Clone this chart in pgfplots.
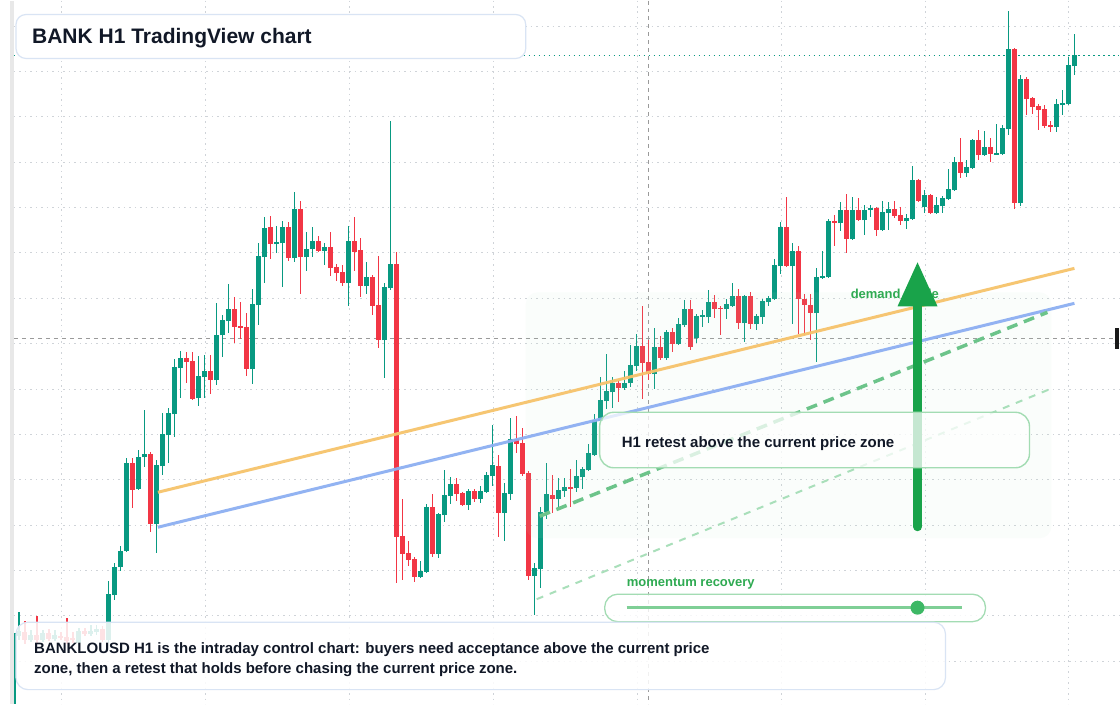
\documentclass[border=0pt]{standalone}
\usepackage{pgfplots}
\pgfplotsset{compat=1.18}
\usepackage{pgfplotstable}
\usepackage{fontspec}
\setmainfont{Liberation Sans}
\definecolor{upc}{HTML}{089981}
\definecolor{dnc}{HTML}{F23645}
\definecolor{gridc}{HTML}{CFD3D8}
\definecolor{crossc}{HTML}{9A9A9A}
\definecolor{orangec}{HTML}{F6C36B}
\definecolor{bluec}{HTML}{8DAFF2}
\definecolor{dashg}{HTML}{6CC48A}
\definecolor{dashlg}{HTML}{A9DFBA}
\definecolor{zonec}{HTML}{B9EBC8}
\definecolor{arrowc}{HTML}{19A34A}
\definecolor{textg}{HTML}{2FAA52}
\definecolor{boxg}{HTML}{A3DCB3}
\definecolor{boxb}{HTML}{D9E4F4}
\definecolor{darkt}{HTML}{111827}
\definecolor{slidel}{HTML}{7FCF96}
\definecolor{sliden}{HTML}{3DB865}

% candles: i = slot (x = 19 + 6 i), prices read as pixel rows (top = 0)
\pgfplotstableread{
i o h l c
0 636 612 640 631
2 640 630 642 635
4 640 630 642 633
6 639 630 641 635
10 643 628 645 631
12 634 625 636 631
13 632 625 635 629
15 640 581 643 594
16 595 563 600 567
17 567 546 571 551
18 551 458 552 463
20 489 450 490 457
21 457 410 467 454
23 524 460 553 465
24 466 413 475 434
25 435 408 463 413
26 414 359 437 367
27 368 351 398 358
30 398 356 406 376
31 377 355 398 371
33 380 303 385 335
34 335 315 357 320
35 321 284 333 309
39 369 289 384 304
40 305 243 325 256
41 257 217 283 228
43 244 226 253 242
44 243 221 287 227
46 258 192 262 209
48 257 232 271 249
49 249 227 257 241
51 251 243 265 247
55 283 226 306 241
58 286 262 294 277
61 340 283 378 287
62 288 121 290 264
67 577 561 578 571
68 572 504 573 507
70 554 513 558 514
71 515 470 522 495
72 496 477 504 484
75 505 489 510 491
77 499 486 503 491
78 492 472 493 475
79 476 425 486 465
81 513 483 541 493
82 494 418 500 439
86 576 563 615 568
87 569 507 588 512
88 512 463 519 494
90 499 478 507 490
91 491 478 497 487
93 488 460 492 476
94 477 467 489 469
95 470 444 471 453
96 455 414 456 420
97 421 377 422 400
98 401 354 409 391
99 392 377 408 383
101 388 371 390 383
102 383 345 387 365
103 366 334 371 346
106 374 328 389 347
108 358 330 360 332
110 344 318 345 324
111 325 300 327 309
113 338 314 343 316
114 316.5 310 327 315
115 317 290 323 302
118 309 299 319 304
119 306 283 307 296
121 323 295 342 296
123 324 314 330 316
124 317 299 324 301
125 302 296 306 298
126 299 259 300 265
127 266 222 274 227
129 266 243 324 251
133 313 268 362 277
134 277.5 251 279 276
135 277 219 278 221
137 223 202 231 210
139 239 197 240 210
141 220 205 235 210
142 210 205 217 208
144 230 201 231 212
145 213 202 230 209
148 221 214 229 218
149 219 166 220 180
151 207 190 213 195
153 213 197 214 205
154 206 196 213 198
155 199 169 200 189
156 190 157 191 162
158 173 160 177 167
159 168 139 169 140
161 155 131 156 147
163 154.5 124 155 153
164 154 125 155 128
165 129 11 135 49
167 203 75 206 79
173 127 99 132 104
174 105 90 115 103
175 104 57 105 65
176 66 34 75 55
}\upT

\pgfplotstableread{
i o h l c
1 632 621 644 640
3 635 616 643 640
5 633 629 641 639
7 636 632 640 637.5
8 637 618 644 641
9 638 632 643 640
11 631 628 636 634
14 629 626 642 640
19 463 458 508 490
22 454 452 532 524
28 358 352 383 362
29 361 352 400 399
32 371 355 394 380
36 309 297 343 327
37 326 302 339 327.5
38 327 313 376 369
42 227 216 259 244
45 227 222 261 258
47 209 201 294 257
50 241 236 252 251
52 247 232 276 268
53 267 264 281 273
54 272 265 286 283
56 241 217 271 252
57 250 238 297 286
59 277 275 315 306
60 305 256 348 340
63 264 252 583 537
64 536 499 580 554
65 553 541 566 560
66 559 557 582 577
69 507 494 557 554
73 484 478 501 494
74 493 492 506 505
76 491 489 502 499
80 466 455 537 513
83 439 416 453 444
84 443 428 476 474
85 473 471 580 576
89 495 475 513 499
92 487 469 507 488.5
100 383 381 402 388
104 346 306 399 363
105 362 340 380 374
107 347 336 360 358
109 332 328 352 344
112 309 300 350 347
116 302 295 318 309
117 307.5 306 335 309
120 296 289 329 323
122 296 292 329 324
128 227 197 267 266
130 251 246 334 299
131 299 294 335 305
132 305 294 340 313
136 221 215 246 222.5
138 210 194 253 239
140 210 198 221 220
143 208 207 236 230
146 209 201 218 216
147 215 207 225 221
150 180 179 202 201
152 195 194 214 213
157 162 138 178 173
160 140 130 160 155
162 147 138 162 154
166 49 48 209 203
168 79 77 115 99
169 98 97 114 107
170 106 104 130 110
171 109 105 128 126
172 125 121 132 127
}\dnT

\begin{document}
\begin{tikzpicture}
\begin{axis}[
  width=1120pt, height=704pt, scale only axis,
  xmin=0, xmax=1120, ymin=0, ymax=704, y dir=reverse,
  hide axis, clip=false,
]
% background
\fill[white] (axis cs:0,0) rectangle (axis cs:1120,704);
\fill[black!9] (axis cs:10,0) rectangle (axis cs:14,704);
% grid
\pgfplotsinvokeforeach{0,...,14}{
  \draw[gridc, line width=1pt, dash pattern=on 1.5pt off 4pt]
    (axis cs:14,{25.6+45.4*#1}) -- (axis cs:1120,{25.6+45.4*#1});
}
\pgfplotsinvokeforeach{0,...,7}{
  \draw[gridc, line width=1pt, dash pattern=on 1.5pt off 4pt]
    (axis cs:{61.5+144*#1},0) -- (axis cs:{61.5+144*#1},704);
}
% last price line and crosshair
\draw[upc, line width=1.2pt, dash pattern=on 1.5pt off 3.5pt] (axis cs:14,55) -- (axis cs:1120,55);
\draw[crossc, line width=1pt, dash pattern=on 4pt off 4pt] (axis cs:14,338) -- (axis cs:1116,338);
\draw[crossc, line width=1pt, dash pattern=on 4pt off 4pt] (axis cs:649,0) -- (axis cs:649,704);
\draw[upc, line width=1.6pt] (axis cs:15,633) -- (axis cs:15,704);

% candles
\addplot[upc, line width=1.1pt, quiver={u=0, v=\thisrow{l}-\thisrow{h}}]
  table[x expr=19+6*\thisrow{i}, y=h] {\upT};
\addplot[upc, line width=5pt, quiver={u=0, v=\thisrow{c}-\thisrow{o}}]
  table[x expr=19+6*\thisrow{i}, y=o] {\upT};
\addplot[dnc, line width=1.1pt, quiver={u=0, v=\thisrow{l}-\thisrow{h}}]
  table[x expr=19+6*\thisrow{i}, y=h] {\dnT};
\addplot[dnc, line width=5pt, quiver={u=0, v=\thisrow{c}-\thisrow{o}}]
  table[x expr=19+6*\thisrow{i}, y=o] {\dnT};

% demand zone overlay
\fill[zonec, fill opacity=0.07, rounded corners=12pt] (axis cs:526,292) rectangle (axis cs:1052,538);

% trend lines
\addplot[orangec, line width=3pt, opacity=0.95] coordinates {(158,492) (1075,268)};
\addplot[bluec, line width=3pt, opacity=0.95] coordinates {(158,527) (1075,303)};
\addplot[dashg, line width=3.5pt, dash pattern=on 11pt off 7pt] coordinates {(540,516) (1048,312)};
\addplot[dashlg, line width=2pt, dash pattern=on 7pt off 7pt] coordinates {(537,599) (1050,389)};

% demand guide label and arrow
\node[anchor=base west, inner sep=0pt, text=textg, font=\bfseries\fontsize{13}{15}\selectfont] at (axis cs:851,298.5) {demand guide};
\draw[arrowc, line width=9pt, line cap=round] (axis cs:918,526.5) -- (axis cs:918,300);
\fill[arrowc] (axis cs:898,306) -- (axis cs:918,262) -- (axis cs:938,306) -- cycle;

% retest box
\draw[boxg, line width=1.4pt, fill=white, fill opacity=0.75, rounded corners=14pt] (axis cs:600,412) rectangle (axis cs:1030,467.5);
\node[anchor=base west, inner sep=0pt, text=darkt, font=\bfseries\fontsize{15}{18}\selectfont] at (axis cs:622,447.5) {H1 retest above the current price zone};

% momentum slider
\node[anchor=base west, inner sep=0pt, text=textg, font=\bfseries\fontsize{13}{15}\selectfont] at (axis cs:627,586.5) {momentum recovery};
\draw[boxg, line width=1.3pt, fill=white, fill opacity=0.8, rounded corners=13pt] (axis cs:605,594) rectangle (axis cs:986,621.5);
\draw[slidel, line width=3.5pt] (axis cs:627,607.5) -- (axis cs:962,607.5);
\fill[sliden] (axis cs:918,607.5) circle[radius=7pt];

% title
\draw[boxb, line width=1.2pt, fill=white, rounded corners=10pt] (axis cs:16,14) rectangle (axis cs:526,58);
\node[anchor=base west, inner sep=0pt, text=darkt, font=\bfseries\fontsize{21}{25}\selectfont] at (axis cs:32,43.5) {BANK H1 TradingView chart};

% caption
\draw[boxb, line width=1.2pt, fill=white, fill opacity=0.86, rounded corners=12pt] (axis cs:16,622) rectangle (axis cs:946,689.5);
\node[anchor=base west, inner sep=0pt, text=darkt, font=\bfseries\fontsize{15}{18}\selectfont] at (axis cs:34,653) {BANKLOUSD H1 is the intraday control chart: buyers need acceptance above the current price};
\node[anchor=base west, inner sep=0pt, text=darkt, font=\bfseries\fontsize{15}{18}\selectfont] at (axis cs:34,673) {zone, then a retest that holds before chasing the current price zone.};

% price label stub
\fill[black!90] (axis cs:1116,328) rectangle (axis cs:1120,349);
\end{axis}
\end{tikzpicture}
\end{document}
